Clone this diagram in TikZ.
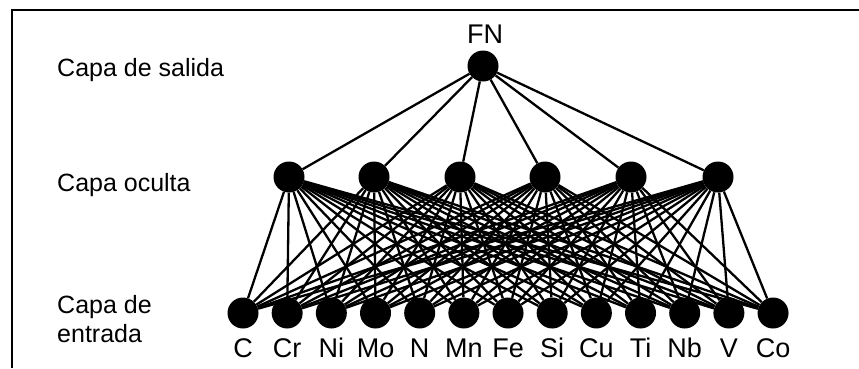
\documentclass[tikz,border=0pt]{standalone}
\usepackage{fontspec}
\setmainfont{Liberation Sans}
\usetikzlibrary{positioning}

\begin{document}
\begin{tikzpicture}[x=1pt, y=-1pt,
  neuron/.style={circle, fill=black, minimum size=31pt, inner sep=0pt},
  conn/.style={line width=2.3pt},
  capa/.style={anchor=base west, align=left, inner sep=0pt, font=\fontsize{25}{29}\selectfont},
  elem/.style={anchor=base, inner sep=0pt, font=\fontsize{27}{30}\selectfont}]
  \useasboundingbox (0,0) rectangle (859,368);
  % marco
  \draw[line width=2pt] (12,368) -- (12,10) -- (859,10);

  % capas de la red
  \node[neuron] (FN) at (483,66) {};
  \node[elem] (tFN) at (485,43) {FN};
  \foreach \x [count=\i] in {289,374,460,545,631,718}
    \node[neuron] (h\i) at (\x,177) {};
  \foreach \lab [count=\i] in {C,Cr,Ni,Mo,N,Mn,Fe,Si,Cu,Ti,Nb,V,Co} {
    \node[neuron] (e\i) at ({243+44.17*(\i-1)},313) {};
    \node[elem] (t\i) at ({243+44.17*(\i-1)},357) {\lab};
  }

  % conexiones
  \foreach \i in {1,...,6} {
    \draw[conn] (FN) -- (h\i);
    \foreach \j in {1,...,13}
      \draw[conn] (h\i) -- (e\j);
  }

  % nombres de las capas
  \node[capa] (salida) at (57,76) {Capa de salida};
  \node[capa] (oculta) at (57,191) {Capa oculta};
  \node[capa] (entrada) at (57,342) {Capa de\\entrada};
\end{tikzpicture}
\end{document}
